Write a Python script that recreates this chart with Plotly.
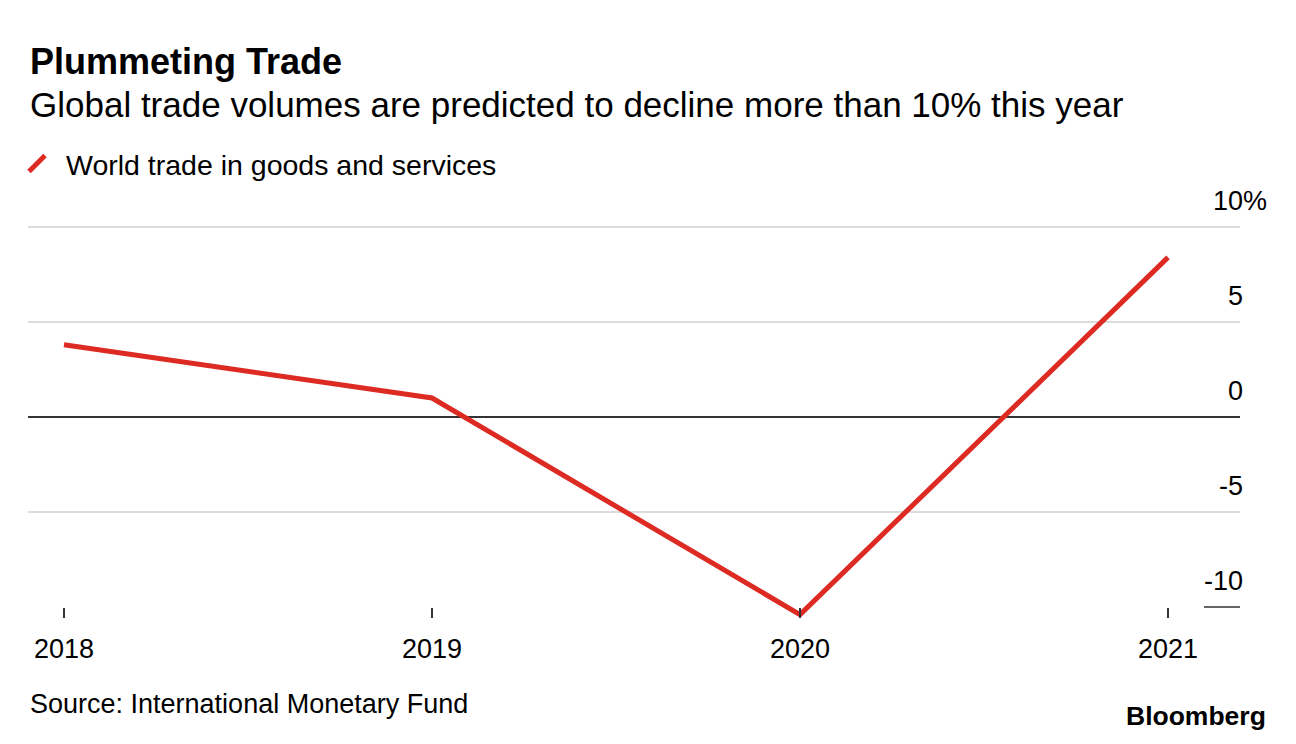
import plotly.graph_objects as go

# ---- data ----
years = [2018, 2019, 2020, 2021]
world_trade = [3.8, 1.0, -10.4, 8.4]
y_tick_vals = [-10, -5, 0, 5, 10]
y_tick_text = ["-10", "-5", "0", "5", "10%"]
grid_vals = [-5, 0, 5, 10]

title = "Plummeting Trade"
subtitle = "Global trade volumes are predicted to decline more than 10% this year"
series_name = "World trade in goods and services"
source = "Source: International Monetary Fund"

FONT = "Liberation Sans, Arial, Helvetica, sans-serif"
RED = "#dd2a22"
DARK = "#333333"
GRID = "#dcdcdc"

# page has an 8px body margin; figure sized to fit the window
OFF = 8
W, H = 1280, 728
PLOT_L, PLOT_R_PAPER, PLOT_T, PLOT_B = 28, 1276, 180, 618  # screen px
ML = PLOT_L - OFF
MR = W - (PLOT_R_PAPER - OFF)
MT = PLOT_T - OFF
MB = H - (PLOT_B - OFF)
paper_w = PLOT_R_PAPER - PLOT_L
paper_h = PLOT_B - PLOT_T


def px(X):
    return (X - PLOT_L) / paper_w


def py(Y):
    return (PLOT_B - Y) / paper_h


x_domain_end = px(1240)
PX_PER_UNIT = 19.0
y_bottom = -10 - (PLOT_B - 607) / PX_PER_UNIT
y_top = y_bottom + paper_h / PX_PER_UNIT
PX_PER_YEAR = 368.0
x_left = 2018 - (64 - PLOT_L) / PX_PER_YEAR
x_right = 2021 + (1240 - 1168) / PX_PER_YEAR

# transparent % padding so numbers right-align while "%" hangs over
pad = '<span style="color:rgba(0,0,0,0)">%</span>'
tick_text_padded = [t if t.endswith("%") else t + pad for t in y_tick_text]

fig = go.Figure()
fig.add_trace(go.Scatter(
    x=years, y=world_trade, mode="lines",
    line=dict(color=RED, width=5),
    showlegend=False, hoverinfo="skip",
))
fig.add_trace(go.Scatter(
    x=[None], y=[None], mode="markers", name=series_name,
    marker=dict(symbol="line-ne", size=16, color=RED,
                line=dict(color=RED, width=5)),
    showlegend=True,
))
# label-only overlay axis
fig.add_trace(go.Scatter(x=[None], y=[None], yaxis="y2", showlegend=False))

fig.update_layout(
    width=W, height=H,
    margin=dict(l=ML, r=MR, t=MT, b=MB, autoexpand=False),
    paper_bgcolor="white", plot_bgcolor="white",
    font=dict(family=FONT, color="#000000", size=27),
    xaxis=dict(
        domain=[0, x_domain_end], range=[x_left, x_right],
        tickvals=years, ticktext=[str(y) for y in years],
        ticks="inside", ticklen=10, tickwidth=1.5, tickcolor=DARK,
        showgrid=False, zeroline=False, showline=False,
        tickfont=dict(size=27, family=FONT, color="#000"),
        ticklabelstandoff=12,
    ),
    yaxis=dict(
        range=[y_bottom, y_top], tickvals=grid_vals,
        showticklabels=False, showgrid=True, gridcolor=GRID, gridwidth=2,
        zeroline=True, zerolinecolor=DARK, zerolinewidth=1.5,
        ticks="",
    ),
    yaxis2=dict(
        overlaying="y", anchor="free", side="left", position=px(1267),
        range=[y_bottom, y_top], tickvals=y_tick_vals, ticktext=tick_text_padded,
        showgrid=False, zeroline=False, showline=False, ticks="",
        tickfont=dict(size=27, family=FONT, color="#000"),
        ticklabelshift=-26,
    ),
    legend=dict(
        x=px(8), y=py(164), xanchor="left", yanchor="middle",
        font=dict(size=28.5, family=FONT, color="#000"),
        itemwidth=48, bgcolor="rgba(0,0,0,0)",
    ),
    shapes=[dict(
        type="line", xref="paper", yref="y",
        x0=px(1204), x1=x_domain_end, y0=y_tick_vals[0], y1=y_tick_vals[0],
        line=dict(color=DARK, width=1.5),
    )],
    annotations=[
        dict(text="<b>" + title + "</b>", xref="paper", yref="paper",
             x=0, y=py(61), xanchor="left", yanchor="middle", showarrow=False,
             font=dict(size=36, family=FONT, color="#000")),
        dict(text=subtitle, xref="paper", yref="paper",
             x=0, y=py(105), xanchor="left", yanchor="middle", showarrow=False,
             font=dict(size=35, family=FONT, color="#000")),
        dict(text=source, xref="paper", yref="paper",
             x=0, y=py(704), xanchor="left", yanchor="middle", showarrow=False,
             font=dict(size=27, family=FONT, color="#000")),
        dict(text="<b>Bloomberg</b>", xref="paper", yref="paper",
             x=px(1268), y=py(716), xanchor="right", yanchor="middle", showarrow=False,
             font=dict(size=26.5, family=FONT, color="#000")),
    ],
)

fig.write_html("out.html")
